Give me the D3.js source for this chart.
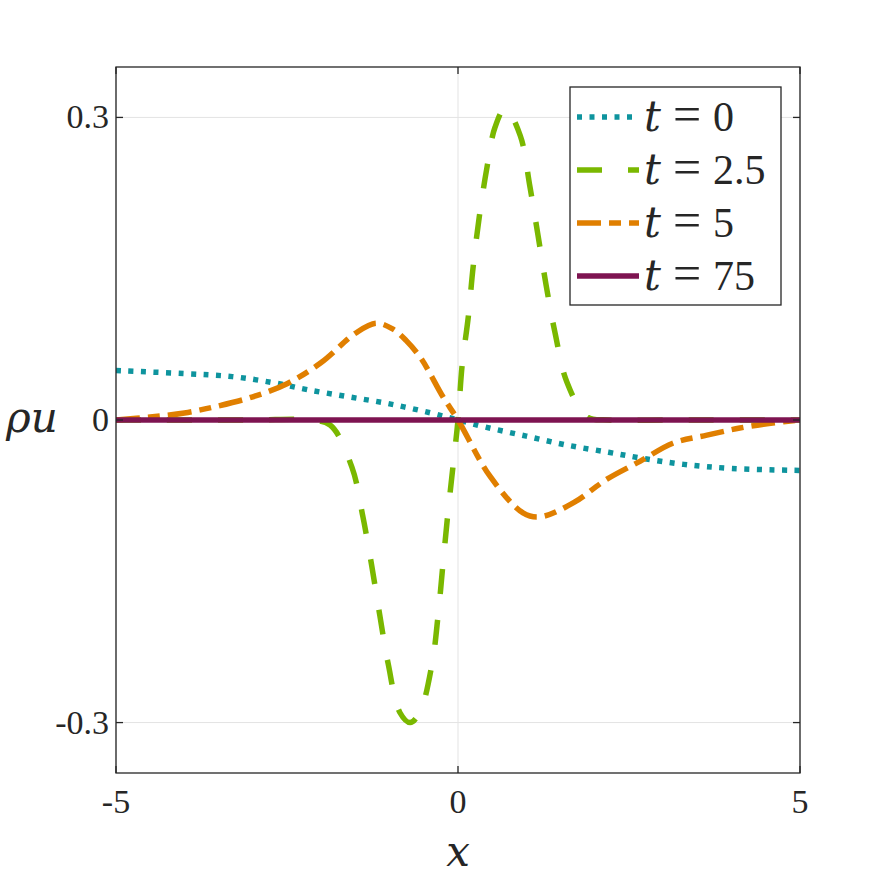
<!DOCTYPE html>
<html>
<head>
<meta charset="utf-8">
<script src="https://d3js.org/d3.v7.min.js"></script>
<style>
  body { margin: 0; background: #fff; }
  text { font-family: "Liberation Serif", serif; fill: #262626; }
  .var { font-family: "DejaVu Serif", serif; font-style: italic; }
</style>
</head>
<body>
<div id="chart"></div>
<script>
// values
var xTicks = [-5, 0, 5];
var yTicks = [-0.3, 0, 0.3];
var yTickLabels = ["-0.3", "0", "0.3"];

var x0 = [-5, -4, -3.3, -2.7, -2.2, -1.6, -1, -0.4, 0, 0.4, 1, 1.6, 2.2, 2.7, 3.3, 4, 5];
var y0 = [0.049, 0.046, 0.043, 0.037, 0.030, 0.023, 0.016, 0.007, 0, -0.007, -0.016, -0.025, -0.032, -0.038, -0.044, -0.048, -0.050];

var x25 = [-5, -3, -2.2, -1.87, -1.55, -1.39, -1.26, -1.14, -1.02, -0.85, -0.70, -0.56, -0.38, -0.29, -0.22, -0.15, -0.07, 0,
           0.06, 0.15, 0.22, 0.31, 0.42, 0.54, 0.69, 0.91, 1.05, 1.17, 1.29, 1.42, 1.59, 1.89, 2.2, 3, 5];
var y25 = [0, 0, 0, -0.005, -0.047, -0.096, -0.145, -0.195, -0.242, -0.290, -0.300, -0.290, -0.242, -0.193, -0.143, -0.094, -0.044, 0,
           0.054, 0.102, 0.151, 0.201, 0.249, 0.290, 0.309, 0.282, 0.232, 0.183, 0.133, 0.086, 0.038, 0.003, 0, 0, 0];

var x5 = [-5, -4.5, -4, -3.5, -3, -2.5, -2, -1.5, -1.2, -0.95, -0.76, -0.54, -0.22, 0, 0.47, 0.95, 1.2, 1.69, 2.17, 2.66, 3.14, 3.64, 4.12, 4.6, 5];
var y5 = [0, 0.003, 0.007, 0.014, 0.023, 0.036, 0.057, 0.086, 0.096, 0.090, 0.079, 0.061, 0.023, 0, -0.056, -0.092, -0.096, -0.082, -0.059, -0.041, -0.023, -0.015, -0.008, -0.003, 0];

var x75 = [-5, -2.5, 0, 2.5, 5];
var y75 = [0, 0, 0, 0, 0];

var labels = ["0", "2.5", "5", "75"];
var colors = ["#0e949e", "#7ab800", "#e07f00", "#7e1451"];
var dashes = ["5,7.5", "25,26", "24,8,12,8", null];

var series = [
  {xs: x0, ys: y0},
  {xs: x25, ys: y25},
  {xs: x5, ys: y5},
  {xs: x75, ys: y75}
];

var width = 886, height = 886;
var m = {left: 116, right: 800, top: 67, bottom: 773};

var svg = d3.select("#chart").append("svg")
    .attr("width", width)
    .attr("height", height);

var x = d3.scaleLinear().domain([-5, 5]).range([m.left, m.right]);
var y = d3.scaleLinear().domain([-0.35, 0.35]).range([m.bottom, m.top]);

// grid
svg.append("g").selectAll("line")
    .data(xTicks).enter().append("line")
    .attr("x1", d => x(d)).attr("x2", d => x(d))
    .attr("y1", m.top).attr("y2", m.bottom)
    .style("stroke", "#e3e3e3").style("stroke-width", 1);
svg.append("g").selectAll("line")
    .data(yTicks).enter().append("line")
    .attr("x1", m.left).attr("x2", m.right)
    .attr("y1", d => y(d)).attr("y2", d => y(d))
    .style("stroke", "#e3e3e3").style("stroke-width", 1);

// curves
svg.append("clipPath").attr("id", "clip")
    .append("rect").attr("x", m.left).attr("y", m.top)
    .attr("width", m.right - m.left).attr("height", m.bottom - m.top);

var line = d3.line()
    .x(d => x(d[0]))
    .y(d => y(d[1]))
    .curve(d3.curveCatmullRom.alpha(0.5));

var plot = svg.append("g").attr("clip-path", "url(#clip)");
series.forEach(function (s, i) {
    var pts = s.xs.map((v, j) => [v, s.ys[j]]);
    plot.append("path")
        .datum(pts)
        .attr("d", line)
        .style("fill", "none")
        .style("stroke", colors[i])
        .style("stroke-width", 5.5)
        .style("stroke-dasharray", dashes[i])
        .style("stroke-linecap", "butt");
});

// axes (ticks inward, box on)
var frame = svg.append("g");
frame.append("rect")
    .attr("x", m.left).attr("y", m.top)
    .attr("width", m.right - m.left).attr("height", m.bottom - m.top)
    .style("fill", "none").style("stroke", "#262626").style("stroke-width", 1.3);

var tl = 7;
xTicks.forEach(function (d) {
    frame.append("line").attr("x1", x(d)).attr("x2", x(d)).attr("y1", m.bottom).attr("y2", m.bottom - tl)
        .style("stroke", "#262626").style("stroke-width", 1.3);
    frame.append("line").attr("x1", x(d)).attr("x2", x(d)).attr("y1", m.top).attr("y2", m.top + tl)
        .style("stroke", "#262626").style("stroke-width", 1.3);
});
yTicks.forEach(function (d) {
    frame.append("line").attr("x1", m.left).attr("x2", m.left + tl).attr("y1", y(d)).attr("y2", y(d))
        .style("stroke", "#262626").style("stroke-width", 1.3);
    frame.append("line").attr("x1", m.right).attr("x2", m.right - tl).attr("y1", y(d)).attr("y2", y(d))
        .style("stroke", "#262626").style("stroke-width", 1.3);
});

// tick labels
svg.append("g").selectAll("text")
    .data(xTicks).enter().append("text")
    .attr("x", d => x(d))
    .attr("y", 813)
    .attr("text-anchor", "middle")
    .style("font-size", "34px")
    .text(d => d);

svg.append("g").selectAll("text")
    .data(yTicks).enter().append("text")
    .attr("x", 109)
    .attr("y", d => y(d) + 11)
    .attr("text-anchor", "end")
    .style("font-size", "34px")
    .text((d, i) => yTickLabels[i]);

// axis labels
svg.append("text")
    .attr("class", "var")
    .attr("x", x(0))
    .attr("y", 866)
    .attr("text-anchor", "middle")
    .style("font-size", "42px")
    .text("x");

svg.append("text")
    .attr("class", "var")
    .attr("x", 6)
    .attr("y", 432)
    .style("font-size", "42px")
    .text("ρu");

// legend
var lg = svg.append("g");
lg.append("rect")
    .attr("x", 570).attr("y", 87)
    .attr("width", 211).attr("height", 218)
    .style("fill", "#fff").style("stroke", "#262626").style("stroke-width", 1.3);

labels.forEach(function (lab, i) {
    var cy = 117 + i * 53;
    lg.append("line")
        .attr("x1", 577).attr("x2", 639)
        .attr("y1", cy).attr("y2", cy)
        .style("stroke", colors[i])
        .style("stroke-width", 5.5)
        .style("stroke-dasharray", dashes[i]);
    var t = lg.append("text")
        .attr("x", 644).attr("y", cy + 14)
        .style("font-size", "42px");
    t.append("tspan").attr("class", "var").text("t");
    t.append("tspan").attr("dx", 12).style("font-size", "50px").text("=");
    t.append("tspan").attr("dx", 12).text(lab);
});
</script>
</body>
</html>
